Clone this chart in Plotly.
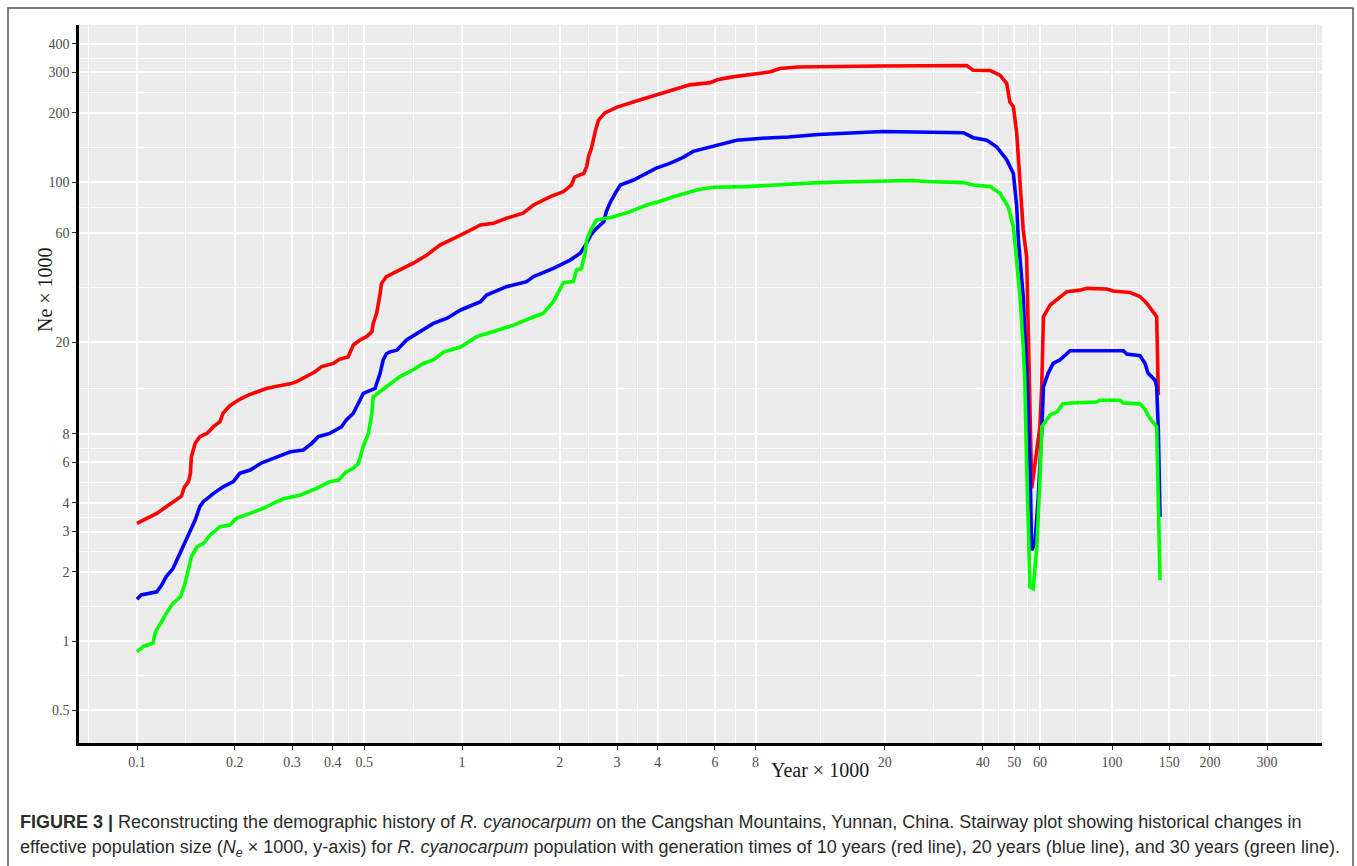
import math
import plotly.graph_objects as go

# ---------------- data ----------------
red_x = [0.1, 0.115, 0.123, 0.129, 0.137, 0.140, 0.144, 0.146, 0.147, 0.151, 0.156, 0.164, 0.172,
         0.18, 0.184, 0.193, 0.207, 0.22, 0.236, 0.25, 0.269, 0.296, 0.31, 0.333, 0.353, 0.37,
         0.402, 0.42, 0.446, 0.463, 0.485, 0.509, 0.528, 0.533, 0.546, 0.56, 0.565, 0.585, 0.644,
         0.708, 0.78, 0.855, 0.99, 1.14, 1.25, 1.37, 1.54, 1.66, 1.87, 2.05, 2.17, 2.22, 2.37,
         2.42, 2.45, 2.5, 2.58, 2.63, 2.75, 3.0, 3.5, 4.0, 4.67, 5.02, 5.8, 6.1, 6.8, 7.9, 8.9,
         9.5, 10.8, 19.3, 35.7, 37.4, 42.2, 45.2, 47.4, 48.5, 49.7, 50.9, 53.3, 54.6, 55.3, 55.9,
         56.6, 58.7, 60.0, 60.8, 61.5, 64.5, 67.6, 72.6, 79.8, 83.6, 96.3, 100.9, 113.6, 121.9,
         128.0, 134.0, 137.2, 138.8]
red_y = [3.26, 3.6, 3.85, 4.05, 4.28, 4.7, 4.95, 5.38, 6.36, 7.27, 7.77, 8.03, 8.59,
         9.03, 9.83, 10.6, 11.3, 11.8, 12.2, 12.6, 12.9, 13.2, 13.5, 14.2, 14.9, 15.7,
         16.2, 16.9, 17.3, 19.5, 20.5, 21.2, 22.3, 24.2, 26.8, 32.7, 36.1, 38.7, 41.4,
         44.3, 48.1, 53.1, 58.7, 65, 66.1, 69.5, 73.1, 79.4, 86.3, 90.8, 97, 105, 109,
         117, 129, 140, 170, 186, 200, 212, 227, 240, 256, 265, 271, 279, 287, 296, 302,
         312, 317, 320, 322, 307, 306, 292, 269, 223, 213, 163, 61.8, 47.3, 22.6, 11.6,
         4.63, 6.8, 8.6, 13.3, 25.9, 29.1, 30.6, 33.3, 33.8, 34.4, 34.2, 33.5, 33.0, 31.7,
         29.6, 27.3, 25.9, 11.8]

blue_x = [0.1, 0.103, 0.115, 0.119, 0.123, 0.129, 0.132, 0.137, 0.142, 0.146, 0.151, 0.156, 0.16,
          0.172, 0.184, 0.198, 0.207, 0.223, 0.242, 0.263, 0.296, 0.325, 0.345, 0.361, 0.392,
          0.426, 0.44, 0.463, 0.48, 0.497, 0.54, 0.56, 0.572, 0.586, 0.6, 0.63, 0.675, 0.742,
          0.816, 0.9, 0.99, 1.14, 1.19, 1.37, 1.58, 1.66, 1.91, 2.15, 2.31, 2.4, 2.49, 2.59,
          2.73, 2.78, 2.85, 2.96, 3.07, 3.37, 3.6, 3.96, 4.36, 4.79, 5.14, 5.9, 7.0, 8.4, 10.1,
          12.5, 17.1, 19.7, 34.9, 37.4, 41.2, 44.2, 47.4, 49.7, 50.9, 51.5, 53.3, 54.6, 55.9,
          56.6, 57.9, 59.3, 60.8, 61.5, 63.6, 65.9, 69.2, 72.6, 74.3, 108.3, 111.0, 121.9,
          126.4, 129.0, 135.6, 137.2, 138.8, 140.5]
blue_y = [1.52, 1.59, 1.64, 1.75, 1.91, 2.07, 2.22, 2.49, 2.76, 3.05, 3.37, 3.85, 4.05,
          4.4, 4.7, 4.95, 5.38, 5.56, 5.98, 6.25, 6.68, 6.8, 7.27, 7.77, 8.03,
          8.59, 9.18, 9.83, 10.8, 12.0, 12.6, 14.7, 16.8, 17.9, 18.2, 18.5, 20.5, 22.3,
          24.2, 25.5, 27.7, 30.1, 32.2, 35.0, 36.8, 38.7, 42.0, 45.7, 48.9, 53.1, 58.7, 62.8,
          67.1, 74.3, 80.8, 89.3, 97, 102, 107, 115, 120.5, 128, 136, 142.5, 152, 155, 157,
          161, 164, 166, 164, 156, 152, 142, 125, 109, 78, 56, 31.6, 15.2, 5.95,
          2.49, 2.67, 4.25, 8.3, 12.8, 14.7, 16.2, 16.8, 17.9, 18.4, 18.4, 17.8, 17.5,
          16.2, 14.7, 13.7, 12.8, 8.3, 3.48]

green_x = [0.1, 0.105, 0.112, 0.114, 0.118, 0.123, 0.129, 0.136, 0.14, 0.144, 0.147, 0.153, 0.16,
           0.168, 0.18, 0.193, 0.202, 0.223, 0.245, 0.269, 0.282, 0.317, 0.357, 0.392, 0.417,
           0.44, 0.463, 0.48, 0.497, 0.515, 0.528, 0.533, 0.56, 0.6, 0.644, 0.708, 0.76, 0.816,
           0.88, 0.99, 1.11, 1.25, 1.44, 1.62, 1.78, 1.91, 2.0, 2.05, 2.2, 2.25, 2.33, 2.39,
           2.42, 2.49, 2.59, 2.93, 3.29, 3.7, 4.05, 4.47, 5.27, 5.9, 7.5, 10.1, 12.5, 17.1,
           24.3, 26.8, 34.9, 37.4, 42.2, 45.2, 47.9, 49.7, 50.9, 52.1, 53.3, 53.9, 54.6, 55.3,
           55.9, 57.2, 58.7, 60.0, 60.8, 62.9, 64.5, 67.9, 70.5, 74.9, 89.7, 91.8, 105.8, 108.3,
           121.9, 126.4, 130.9, 137.2, 138.8, 140.5]
green_y = [0.9, 0.95, 0.98, 1.1, 1.19, 1.32, 1.46, 1.56, 1.75, 2.11, 2.33, 2.58, 2.66,
           2.9, 3.15, 3.2, 3.43, 3.6, 3.79, 4.05, 4.17, 4.32, 4.63, 4.95, 5.03,
           5.46, 5.66, 5.95, 7.07, 8.03, 9.83, 11.6, 12.2, 13.2, 14.2, 15.2, 16.2, 16.8,
           18.2, 19.1, 21.2, 22.3, 23.8, 25.5, 26.8, 30.1, 33.8, 36.4, 36.8, 41.4, 42.0, 48.9,
           55.8, 61.8, 68.3, 70.6, 74.3, 79.4, 82.2, 86.3, 92.3, 94.9, 95.5, 98, 99.4, 100.5,
           101.5, 100.5, 99.4, 97, 95.5, 89.3, 78, 63.8, 45.7, 31.6, 19.1, 13.7, 5.95, 3.05,
           1.72, 1.69, 2.58, 5.03, 8.6, 9.18, 9.66, 10.0, 10.8, 10.9, 11.0, 11.2, 11.2, 10.9,
           10.8, 10.2, 9.3, 8.6, 4.25, 1.84]

x_ticks = [0.1, 0.2, 0.3, 0.4, 0.5, 1, 2, 3, 4, 6, 8, 20, 40, 50, 60, 100, 150, 200, 300]
x_tick_labels = ["0.1", "0.2", "0.3", "0.4", "0.5", "1", "2", "3", "4", "6", "8", "20",
                 "40", "50", "60", "100", "150", "200", "300"]
y_ticks = [0.5, 1, 2, 3, 4, 6, 8, 20, 60, 100, 200, 300, 400]
y_tick_labels = ["0.5", "1", "2", "3", "4", "6", "8", "20", "60", "100", "200", "300", "400"]


def minor_breaks(b):
    # ggplot2-style minor breaks: geometric midpoints, extended one step each side
    lb = [math.log10(v) for v in b]
    d = lb[1] - lb[0]
    lb = [lb[0] - d] + lb + [lb[-1] + d]
    return [10 ** ((lb[i] + lb[i + 1]) / 2) for i in range(len(lb) - 1)]


W, H = 1357, 866
L, R, T, B = 79, 35, 25, 123
pw, ph = W - L - R, H - T - B


def px(x):
    return (x - L) / pw


def py(y):
    return (H - B - y) / ph


fig = go.Figure()
for xs, ys, col in [(red_x, red_y, "#FF0000"), (blue_x, blue_y, "#0000FF"),
                    (green_x, green_y, "#00FF00")]:
    fig.add_trace(go.Scatter(x=xs, y=ys, mode="lines",
                             line=dict(color=col, width=3.6), showlegend=False,
                             hoverinfo="skip"))

tickfont = dict(family="Liberation Serif", size=14, color="#4D4D4D")
fig.update_xaxes(type="log", range=[-1.1785, 2.646], tickmode="array", tickvals=x_ticks,
                 ticktext=x_tick_labels, tickfont=tickfont, ticks="outside", ticklen=4,
                 tickwidth=1, tickcolor="#333333", showgrid=True, gridcolor="white",
                 gridwidth=2, zeroline=False, showline=True, linecolor="black", linewidth=2.6,
                 minor=dict(tickmode="array", tickvals=minor_breaks(x_ticks), showgrid=True,
                            gridcolor="white", gridwidth=1, ticks=""))
fig.update_yaxes(type="log", range=[-0.444, 2.684], tickmode="array", tickvals=y_ticks,
                 ticktext=y_tick_labels, tickfont=tickfont, ticks="outside", ticklen=4,
                 tickwidth=1, tickcolor="#333333", showgrid=True, gridcolor="white",
                 gridwidth=2, zeroline=False, showline=True, linecolor="black", linewidth=2.6,
                 minor=dict(tickmode="array", tickvals=minor_breaks(y_ticks), showgrid=True,
                            gridcolor="white", gridwidth=1, ticks=""))

annotations = [
    dict(text="Ne × 1000", x=px(45), y=py(290), textangle=-90, showarrow=False,
         xref="paper", yref="paper", xanchor="center", yanchor="middle",
         font=dict(family="Liberation Serif", size=20, color="#1A1A1A")),
    dict(text="Year × 1000", x=px(820), y=py(770), showarrow=False,
         xref="paper", yref="paper", xanchor="center", yanchor="middle",
         font=dict(family="Liberation Serif", size=20, color="#1A1A1A")),
    dict(text="<b>FIGURE 3 |</b> Reconstructing the demographic history of <i>R. cyanocarpum</i> "
              "on the Cangshan Mountains, Yunnan, China. Stairway plot showing historical changes in",
         x=px(18), y=py(822), showarrow=False, xref="paper", yref="paper",
         xanchor="left", yanchor="middle", align="left",
         font=dict(family="Liberation Sans", size=18, color="#2B2B2B")),
    dict(text="effective population size (<i>N<sub>e</sub></i> × 1000, y-axis) for <i>R. cyanocarpum</i> "
              "population with generation times of 10 years (red line), 20 years (blue line), "
              "and 30 years (green line).",
         x=px(18), y=py(848), showarrow=False, xref="paper", yref="paper",
         xanchor="left", yanchor="middle", align="left",
         font=dict(family="Liberation Sans", size=18, color="#2B2B2B")),
]

shapes = [
    dict(type="path", xref="paper", yref="paper",
         path=f"M {px(8)} {py(880)} L {px(8)} {py(8)} L {px(1353)} {py(8)} L {px(1353)} {py(880)}",
         line=dict(color="#555555", width=1.5), layer="above"),
]

fig.update_layout(width=W, height=H, margin=dict(l=L, r=R, t=T, b=B, pad=0),
                  paper_bgcolor="white", plot_bgcolor="#EBEBEB",
                  annotations=annotations, shapes=shapes, showlegend=False)

fig.write_html("out.html")
